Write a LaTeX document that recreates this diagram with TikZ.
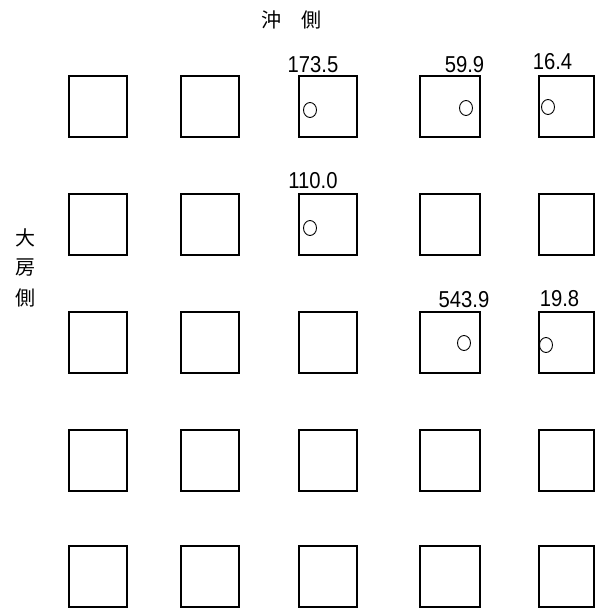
\documentclass[tikz,border=0pt]{standalone}
\usepackage{fontspec}
\usetikzlibrary{shapes.geometric}
\setmainfont{Liberation Sans}
\newfontfamily\cjk{Noto Sans CJK JP}
\newcommand{\narrownum}[1]{\scalebox{0.88}[1]{#1}}
\begin{document}
\begin{tikzpicture}[x=1pt,y=-1pt,
  box/.style={draw, line width=1.4pt, minimum height=61pt, inner sep=0pt, outer sep=0pt, anchor=north west},
  hole/.style={draw, line width=0.9pt, ellipse, minimum width=13pt, minimum height=15pt, inner sep=0pt},
  val/.style={inner sep=0pt, font=\fontsize{23}{23}\selectfont},
  side/.style={inner sep=0pt, font=\cjk\fontsize{20}{20}\selectfont}]
\useasboundingbox (0,0) rectangle (606,612);
\foreach \c/\x/\w in {1/69/58,2/181/58,3/299/58,4/420/60,5/539/55}{
  \foreach \r/\y in {1/76,2/194,3/312,4/430,5/546}{
    \node[box, minimum width=\w pt] (s\r\c) at (\x,\y) {};
  }
}
\node[hole] (h1) at (310,110) {};
\node[hole] (h2) at (466,108) {};
\node[hole] (h3) at (548,107) {};
\node[hole] (h4) at (310,228) {};
\node[hole] (h5) at (464,343) {};
\node[hole] (h6) at (546,345) {};
\node[val] (v1) at (313,64.5) {\narrownum{173.5}};
\node[val] (v2) at (464.5,64.5) {\narrownum{59.9}};
\node[val] (v3) at (552.5,61.5) {\narrownum{16.4}};
\node[val] (v4) at (313,180.5) {\narrownum{110.0}};
\node[val] (v5) at (464,300) {\narrownum{543.9}};
\node[val] (v6) at (559.5,299) {\narrownum{19.8}};
\node[side] (t1) at (271,20) {沖};
\node[side] (t2) at (311,20) {側};
\node[side] (l1) at (26,237.5) {大};
\node[side] (l2) at (26,267.5) {房};
\node[side] (l3) at (26,298) {側};
\end{tikzpicture}
\end{document}
